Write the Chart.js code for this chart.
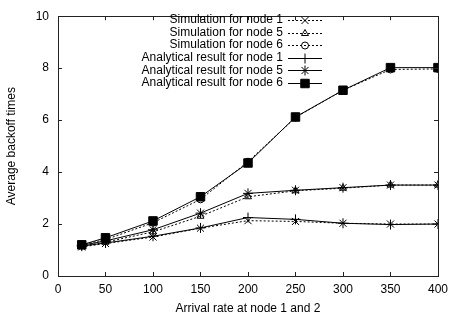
<!DOCTYPE html>
<html>
<head>
<meta charset="utf-8">
<script src="https://cdn.jsdelivr.net/npm/chart.js"></script>
<style>
  body { margin: 0; background: #fff; }
</style>
</head>
<body>
<canvas id="backoff-chart" width="454" height="324"></canvas>
<script>
// arrival rates (x) and average backoff times per series
const rates = [25, 50, 100, 150, 200, 250, 300, 350, 400];
const simNode1 = [1.12, 1.25, 1.5, 1.84, 2.13, 2.1, 2.03, 2.0, 2.0];
const simNode5 = [1.15, 1.3, 1.7, 2.3, 3.05, 3.28, 3.38, 3.5, 3.5];
const simNode6 = [1.2, 1.4, 2.05, 2.95, 4.4, 6.1, 7.15, 7.95, 7.97];
const anaNode1 = [1.15, 1.27, 1.53, 1.85, 2.25, 2.18, 2.03, 1.98, 2.0];
const anaNode5 = [1.18, 1.35, 1.78, 2.42, 3.18, 3.3, 3.4, 3.5, 3.5];
const anaNode6 = [1.2, 1.47, 2.12, 3.05, 4.35, 6.12, 7.15, 8.02, 8.02];

const xTicks = [0, 50, 100, 150, 200, 250, 300, 350, 400];
const yTicks = [0, 2, 4, 6, 8, 10];

const FONT = "'Liberation Sans', Arial, sans-serif";
const FSIZE = 12;

const toPoints = vals => vals.map((v, i) => ({ x: rates[i], y: v }));

const makeSet = (label, vals, style, radius, dashed, filled) => ({
    label: label,
    data: toPoints(vals),
    borderColor: "#000",
    borderWidth: 1,
    borderDash: dashed ? [2, 2] : [],
    pointStyle: style,
    pointRadius: radius,
    pointBorderWidth: 1,
    pointBorderColor: "#000",
    pointBackgroundColor: filled ? "#000" : "rgba(0,0,0,0)",
    pointHoverRadius: radius,
    fill: false,
    tension: 0
});

const datasets = [
    makeSet("Simulation for node 1", simNode1, "crossRot", 5, true, false),
    makeSet("Simulation for node 5", simNode5, "triangle", 4, true, false),
    makeSet("Simulation for node 6", simNode6, "circle", 3.5, true, false),
    makeSet("Analytical result for node 1", anaNode1, "cross", 5, false, false),
    makeSet("Analytical result for node 5", anaNode5, "star", 5, false, false),
    makeSet("Analytical result for node 6", anaNode6, "rect", 6, false, true)
];

// gnuplot style frame: box with inward ticks on all four sides
const framePlugin = {
    id: "frame",
    afterDatasetsDraw(chart) {
        const ctx = chart.ctx;
        const a = chart.chartArea;
        const xs = chart.scales.x, ys = chart.scales.y;
        const len = 4;
        ctx.save();
        ctx.strokeStyle = "#222";
        ctx.lineWidth = 1;
        ctx.setLineDash([]);
        ctx.strokeRect(Math.round(a.left) + 0.5, Math.round(a.top) + 0.5,
            Math.round(a.right - a.left), Math.round(a.bottom - a.top));
        ctx.beginPath();
        xTicks.forEach(v => {
            const px = Math.round(xs.getPixelForValue(v)) + 0.5;
            ctx.moveTo(px, a.bottom); ctx.lineTo(px, a.bottom - len);
            ctx.moveTo(px, a.top); ctx.lineTo(px, a.top + len);
        });
        yTicks.forEach(v => {
            const py = Math.round(ys.getPixelForValue(v)) + 0.5;
            ctx.moveTo(a.left, py); ctx.lineTo(a.left + len, py);
            ctx.moveTo(a.right, py); ctx.lineTo(a.right - len, py);
        });
        ctx.stroke();
        ctx.restore();
    }
};

// legend: right aligned text, line sample with marker to its right
const legendPlugin = {
    id: "keyBox",
    afterDraw(chart) {
        const ctx = chart.ctx;
        const textRight = 283, lineL = 288, lineR = 322, mid = 305;
        ctx.save();
        ctx.font = FSIZE + "px " + FONT;
        ctx.textAlign = "right";
        ctx.textBaseline = "middle";
        chart.data.datasets.forEach((ds, i) => {
            const y = 20 + i * 12.55;
            ctx.fillStyle = "#000";
            ctx.fillText(ds.label, textRight, y);
            ctx.strokeStyle = "#000";
            ctx.lineWidth = 1;
            ctx.setLineDash(ds.borderDash);
            ctx.beginPath();
            ctx.moveTo(lineL, Math.round(y) + 0.5);
            ctx.lineTo(lineR, Math.round(y) + 0.5);
            ctx.stroke();
            ctx.setLineDash([]);
            ctx.fillStyle = ds.pointBackgroundColor;
            if (Chart.helpers && Chart.helpers.drawPoint) {
                Chart.helpers.drawPoint(ctx, {
                    pointStyle: ds.pointStyle,
                    radius: ds.pointRadius,
                    rotation: 0,
                    borderWidth: 1
                }, mid, Math.round(y) + 0.5);
            }
        });
        ctx.restore();
    }
};

const chart = document.querySelector("#backoff-chart").getContext("2d");

new Chart(chart, {
    type: "line",
    data: { datasets: datasets },
    options: {
        responsive: false,
        animation: false,
        devicePixelRatio: 1,
        layout: { padding: { top: 8, right: 15, left: 0, bottom: 0 } },
        plugins: {
            legend: { display: false },
            tooltip: { enabled: false }
        },
        scales: {
            x: {
                type: "linear",
                min: 0,
                max: 400,
                afterBuildTicks: s => { s.ticks = xTicks.map(v => ({ value: v })); },
                afterFit: s => { s.height = 48; },
                grid: { display: false, drawTicks: false },
                border: { display: false },
                ticks: { color: "#000", padding: 6, font: { family: FONT, size: FSIZE } },
                title: {
                    display: true,
                    text: "Arrival rate at node 1 and 2",
                    color: "#000",
                    padding: { top: 4, bottom: 8 },
                    font: { family: FONT, size: FSIZE }
                }
            },
            y: {
                min: 0,
                max: 10,
                afterBuildTicks: s => { s.ticks = yTicks.map(v => ({ value: v })); },
                afterFit: s => { s.width = 58; },
                grid: { display: false, drawTicks: false },
                border: { display: false },
                ticks: { color: "#000", padding: 9, font: { family: FONT, size: FSIZE } },
                title: {
                    display: true,
                    text: "Average backoff times",
                    color: "#000",
                    padding: { top: 4, bottom: 0 },
                    font: { family: FONT, size: FSIZE }
                }
            }
        }
    },
    plugins: [framePlugin, legendPlugin]
});
</script>
</body>
</html>
